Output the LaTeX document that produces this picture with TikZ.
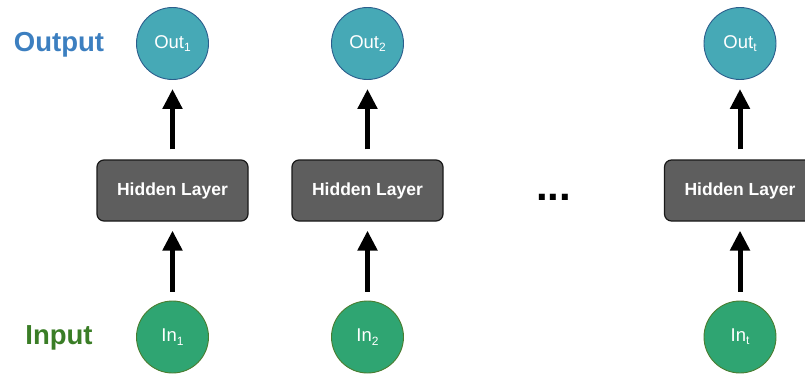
\documentclass[tikz,border=0pt]{standalone}
\usepackage{fontspec}
\setmainfont{Liberation Sans}
\usetikzlibrary{arrows.meta}
\definecolor{outfill}{HTML}{46A9B6}
\definecolor{outline}{HTML}{2C5E8C}
\definecolor{infill}{HTML}{2FA572}
\definecolor{inline}{HTML}{4A7D30}
\definecolor{hidfill}{HTML}{5E5E5E}
\definecolor{outlabel}{HTML}{3C7FC0}
\definecolor{inlabel}{HTML}{3A7D26}
\tikzset{
  outnode/.style={circle, draw=outline, fill=outfill, line width=0.9pt, minimum size=72pt, inner sep=0pt, text=white, font=\fontsize{18.5}{18.5}\selectfont},
  innode/.style={circle, draw=inline, fill=infill, line width=0.9pt, minimum size=72pt, inner sep=0pt, text=white, font=\fontsize{18.5}{18.5}\selectfont},
  hidbox/.style={rectangle, rounded corners=7pt, draw=black!90, fill=hidfill, line width=1.2pt, minimum width=151pt, minimum height=61pt, inner sep=0pt, text=white, font=\bfseries\fontsize{17.5}{17.5}\selectfont},
  bigarrow/.style={line width=5pt, -{Triangle[length=20pt,width=19pt]}},
  sidelabel/.style={font=\bfseries\fontsize{27.5}{27.5}\selectfont, inner sep=0pt}
}
\newcommand{\subs}[1]{\raisebox{-0.18em}{\fontsize{12}{12}\selectfont #1}}
\begin{document}
\begin{tikzpicture}[x=1pt,y=-1pt]
\useasboundingbox (0,0) rectangle (805,373);
% labels
\node[sidelabel, text=outlabel] (outlab) at (59,45) {Output};
\node[sidelabel, text=inlabel] (inlab) at (59,338) {Input};
% column 1
\node[outnode] (o1) at (172.5,43.5) {Out\subs{1}};
\node[hidbox] (h1) at (172.5,190.5) {Hidden Layer};
\node[innode] (i1) at (172.5,337) {In\subs{1}};
% column 2
\node[outnode] (o2) at (367.5,43.5) {Out\subs{2}};
\node[hidbox] (h2) at (367.5,190.5) {Hidden Layer};
\node[innode] (i2) at (367.5,337) {In\subs{2}};
% column t
\node[outnode] (o3) at (740,43.5) {Out\subs{t}};
\node[hidbox] (h3) at (740,190.5) {Hidden Layer};
\node[innode] (i3) at (740,337) {In\subs{t}};
% dots
\node[inner sep=0pt, font=\bfseries\fontsize{42}{42}\selectfont] (dots) at (553.5,197) {...};
% arrows
\foreach \c in {1,2,3}{
  \draw[bigarrow, shorten <=10pt, shorten >=9pt] (h\c.north) -- (o\c.south);
  \draw[bigarrow, shorten <=9pt, shorten >=9pt] (i\c.north) -- (h\c.south);
}
\end{tikzpicture}
\end{document}
